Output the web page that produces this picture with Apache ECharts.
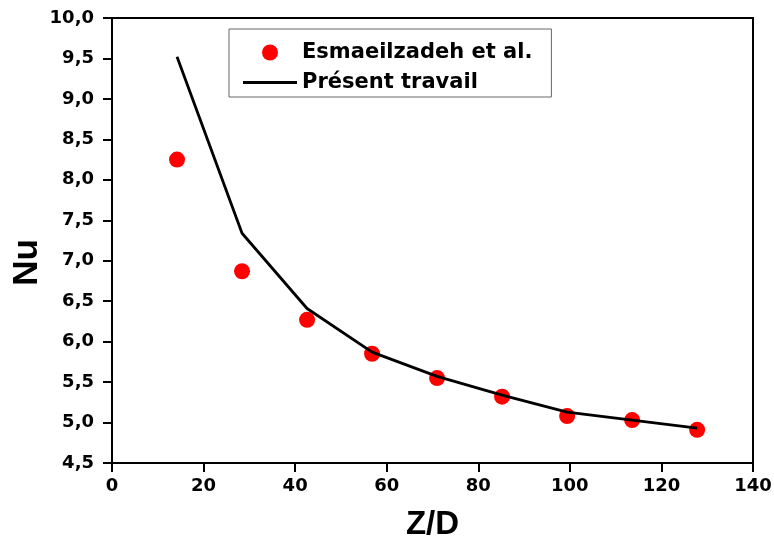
<!DOCTYPE html>
<html>
<head>
<meta charset="utf-8">
<script src="https://cdn.jsdelivr.net/npm/echarts@6/dist/echarts.min.js"></script>
<style>
html,body{margin:0;padding:0;background:#fff;}
#chart{width:774px;height:541px;}
</style>
</head>
<body>
<div id="chart"></div>
<script>
// ---- data ----
const zd = [14.2, 28.4, 42.6, 56.8, 71, 85.2, 99.4, 113.6, 127.8];
const nuEsmaeilzadeh = [8.25, 6.87, 6.27, 5.85, 5.55, 5.32, 5.08, 5.03, 4.91];
const nuPresent = [9.52, 7.34, 6.41, 5.87, 5.57, 5.34, 5.13, 5.03, 4.93];
const seriesNames = ['Esmaeilzadeh et al.', 'Présent travail'];
const xTickLabels = ['0', '20', '40', '60', '80', '100', '120', '140'];
const yTickLabels = ['4,5', '5,0', '5,5', '6,0', '6,5', '7,0', '7,5', '8,0', '8,5', '9,0', '9,5', '10,0'];
const xTitle = 'Z/D';
const yTitle = 'Nu';

const FONT = '"Liberation Sans", Arial, sans-serif';
const TFONT = '"DejaVu Sans", sans-serif';
const chart = echarts.init(document.getElementById('chart'), null, {renderer: 'canvas'});

const axisCommon = {
  axisLine: {show: true, onZero: false, lineStyle: {color: '#000', width: 2}},
  axisTick: {show: true, inside: false, length: 9, lineStyle: {color: '#000', width: 2}},
  splitLine: {show: false},
  axisLabel: {color: '#000', fontWeight: 'bold', fontFamily: TFONT, fontSize: 18}
};

chart.setOption({
  backgroundColor: '#fff',
  animation: false,
  grid: {left: 112, right: 21, top: 18, bottom: 78, show: true, borderColor: '#000', borderWidth: 2,
         backgroundColor: 'transparent', containLabel: false, outerBoundsMode: 'none'},
  xAxis: Object.assign({}, axisCommon, {
    type: 'value', min: 0, max: 140, interval: 20,
    axisLabel: Object.assign({}, axisCommon.axisLabel, {
      margin: 14,
      formatter: v => xTickLabels[Math.round(v / 20)]
    }),
    name: xTitle, nameLocation: 'middle', nameGap: 45,
    nameTextStyle: {color: '#000', fontWeight: 'bold', fontFamily: FONT, fontSize: 33}
  }),
  yAxis: Object.assign({}, axisCommon, {
    type: 'value', min: 4.5, max: 10, interval: 0.5,
    axisLabel: Object.assign({}, axisCommon.axisLabel, {
      margin: 18,
      formatter: v => yTickLabels[Math.round((v - 4.5) / 0.5)]
    }),
    name: yTitle, nameLocation: 'middle', nameGap: 67, nameRotate: 90, nameMoveOverlap: false,
    nameTextStyle: {color: '#000', fontWeight: 'bold', fontFamily: FONT, fontSize: 35, padding: [0, 44, 0, 0]}
  }),
  legend: {
    orient: 'vertical', left: 229, top: 29,
    padding: [13, 19, 4, 14],
    itemWidth: 54, itemHeight: 16, itemGap: 9,
    borderColor: '#666', borderWidth: 1, backgroundColor: '#fff',
    textStyle: {color: '#000', fontWeight: 'bold', fontFamily: TFONT, fontSize: 21},
    data: [
      {name: seriesNames[0], icon: 'circle', itemStyle: {color: '#ff0000', opacity: 1}},
      {name: seriesNames[1], icon: 'path://M0,0L54,0L54,3L0,3Z', itemStyle: {color: '#000', opacity: 1}}
    ]
  },
  series: [
    {
      name: seriesNames[0], type: 'scatter', symbol: 'circle', symbolSize: 16,
      itemStyle: {color: '#ff0000', opacity: 1},
      data: zd.map((x, i) => [x, nuEsmaeilzadeh[i]]), z: 2
    },
    {
      name: seriesNames[1], type: 'line', symbol: 'none', showSymbol: false,
      lineStyle: {color: '#000', width: 2.8}, itemStyle: {color: '#000'},
      data: zd.map((x, i) => [x, nuPresent[i]]), z: 3
    }
  ]
});
</script>
</body>
</html>
